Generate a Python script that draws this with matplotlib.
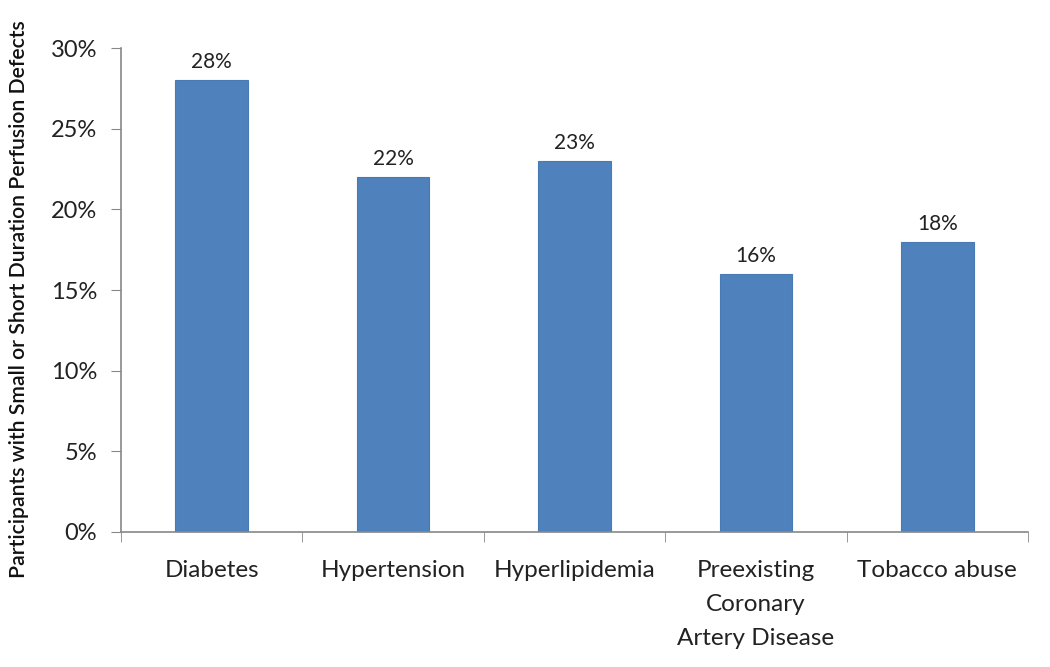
import matplotlib
matplotlib.use("Agg")
import matplotlib.pyplot as plt
from matplotlib.ticker import FixedLocator, FuncFormatter

categories = ["Diabetes", "Hypertension", "Hyperlipidemia",
              "Preexisting\nCoronary\nArtery Disease", "Tobacco abuse"]
values = [28, 22, 23, 16, 18]
y_ticks = [0, 5, 10, 15, 20, 25, 30]
y_label = "Participants with Small or Short Duration Perfusion Defects"

plt.rcParams['font.family'] = ['Lato', 'DejaVu Sans']

fig = plt.figure(figsize=(10.5, 6.67), dpi=100)
ax = fig.add_axes([0.1152, 0.2024, 0.979 - 0.1152, 0.928 - 0.2024])

x = list(range(len(categories)))
bars = ax.bar(x, values, width=0.4, color="#4F81BD", edgecolor="#4A7AB3", linewidth=0.8, zorder=2)

for xi, v in zip(x, values):
    ax.text(xi, v + 0.5, f"{v}%", ha="center", va="bottom", fontsize=15, color="#222222")

ax.set_xlim(-0.5, len(categories) - 0.5)
ax.set_ylim(0, 30)
ax.yaxis.set_major_locator(FixedLocator(y_ticks))
ax.yaxis.set_major_formatter(FuncFormatter(lambda v, p: f"{int(v)}%"))

ax.set_xticks(x)
ax.set_xticklabels(categories, fontsize=17.5, color="#222222", linespacing=1.78)
ax.set_xticks([i - 0.5 for i in range(len(categories) + 1)], minor=True)
ax.tick_params(axis="x", which="major", length=0, pad=20)
ax.tick_params(axis="x", which="minor", length=7, color="#888888", direction="out")
ax.tick_params(axis="y", length=7, color="#888888", direction="out", labelsize=17,
               labelcolor="#222222", pad=10)

for s in ["top", "right"]:
    ax.spines[s].set_visible(False)
for s in ["left", "bottom"]:
    ax.spines[s].set_color("#888888")
    ax.spines[s].set_linewidth(1.2)

fig.text(0.018, 0.552, y_label, rotation=90, ha="center", va="center", fontsize=15.3,
         fontweight="semibold", color="#111111")

fig.savefig("out.png", dpi=100, facecolor="white")
